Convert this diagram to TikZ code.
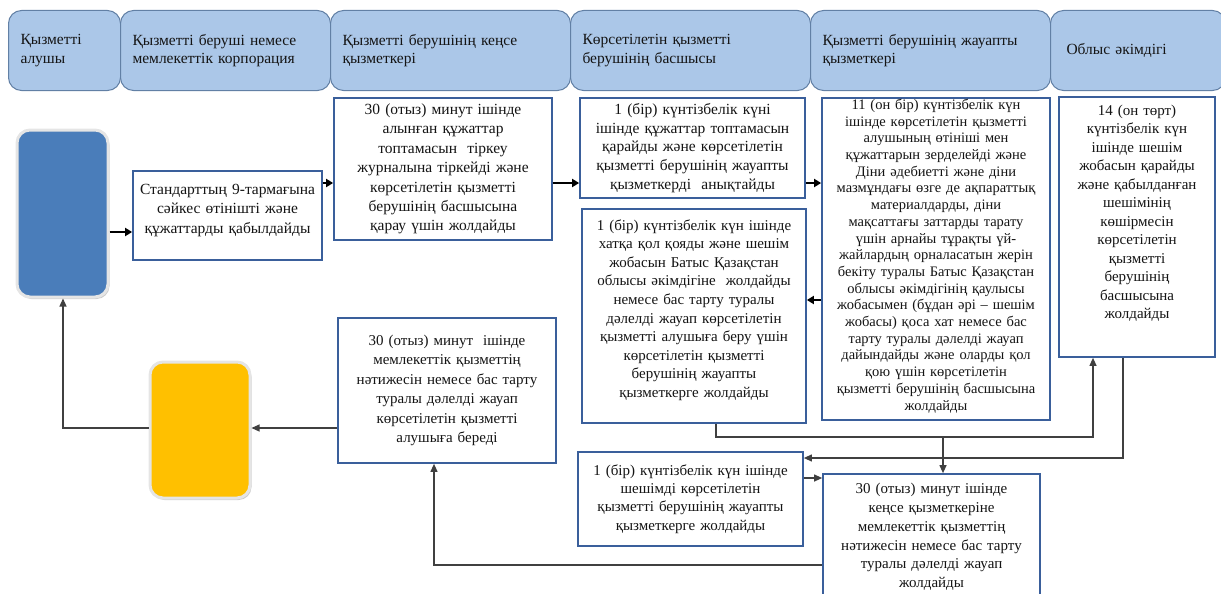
\documentclass[tikz,border=0pt]{standalone}
\usepackage{fontspec}
\setmainfont{Liberation Serif}
\usetikzlibrary{arrows.meta,shadows,calc}
\definecolor{hdrfill}{RGB}{171,199,232}
\definecolor{hdrline}{RGB}{98,128,165}
\definecolor{boxline}{RGB}{58,95,155}
\definecolor{bluefill}{RGB}{74,125,186}
\definecolor{yellowfill}{RGB}{255,192,0}
\definecolor{txt}{RGB}{20,20,20}
\newcommand{\fsz}[2]{\fontsize{#1}{#2}\selectfont}
\newcommand{\liftby}[1]{\par\nointerlineskip\kern#1\hbox{}}
\begin{document}
\begin{tikzpicture}[x=1pt,y=-1pt,
  hdr/.style={draw=hdrline, fill=hdrfill, rounded corners=13pt, line width=1pt,
    anchor=north west, minimum height=80pt, align=left, inner xsep=12pt,
    font=\fsz{15.5}{18.5}, text=txt},
  box/.style={draw=boxline, line width=1.7pt, fill=white, align=center, inner sep=0pt, text=txt},
  rbox/.style={rounded corners=13pt, draw=white!90!black, line width=3pt,
    drop shadow={shadow xshift=1.5pt, shadow yshift=-2pt, fill=black!40, opacity=0.5}},
  thickarrow/.style={draw=black, line width=2.2pt, -{Triangle[length=7pt,width=8pt]}},
  conn/.style={draw=black!75, line width=1.1pt, -{Triangle[length=8pt,width=7pt]}}
]
\useasboundingbox (0,0) rectangle (1221,594);

% header lanes
\node[hdr, text width=88pt] (h1) at (8,10) {Қызметті\\алушы};
\node[hdr, text width=186pt] (h2) at (120,10) {Қызметті беруші немесе\\мемлекеттік корпорация};
\node[hdr, text width=216pt] (h3) at (330,10) {Қызметті берушінің кеңсе\\қызметкері};
\node[hdr, text width=216pt] (h4) at (570,10) {Көрсетілетін қызметті\\берушінің басшысы};
\node[hdr, text width=216pt] (h5) at (810,10) {Қызметті берушінің жауапты\\қызметкері};
\node[hdr, text width=143pt, inner xsep=16pt] (h6) at (1050,10) {Облыс әкімдігі};

% start / end shapes
\node[rbox, fill=bluefill, minimum width=91pt, minimum height=167pt] (S) at (62.5,213.5) {};
\node[rbox, fill=yellowfill, minimum width=100pt, minimum height=136pt] (Y) at (200,430) {};

% process boxes
\node[box, minimum width=189pt, minimum height=89pt, text width=189pt, font=\fsz{15.5}{19.5}] (A) at (227.5,215.5)
  {Стандарттың 9-тармағына\\сәйкес өтінішті және\\құжаттарды қабылдайды\liftby{10pt}};
\node[box, minimum width=218pt, minimum height=142pt, text width=218pt, font=\fsz{15.5}{19.4}] (B) at (443,169)
  {30 (отыз) минут ішінде\\алынған құжаттар\\топтамасын\ \ тіркеу\\журналына тіркейді және\\көрсетілетін қызметті\\берушінің басшысына\\қарау үшін жолдайды};
\node[box, minimum width=225pt, minimum height=100pt, text width=225pt, font=\fsz{15.5}{18.8}] (C) at (692.5,148)
  {1 (бір) күнтізбелік күні\\ішінде құжаттар топтамасын\\қарайды және көрсетілетін\\қызметті берушінің жауапты\\қызметкерді\ \ анықтайды};
\node[box, minimum width=228pt, minimum height=322pt, text width=228pt, font=\fsz{14.5}{16.7}] (D) at (936,259)
  {11 (он бір) күнтізбелік күн\\ішінде көрсетілетін қызметті\\алушының өтініші мен\\құжаттарын зерделейді және\\Діни әдебиетті және діни\\мазмұндағы өзге де ақпараттық\\материалдарды, діни\\мақсаттағы заттарды тарату\\үшін арнайы тұрақты үй-\\жайлардың орналасатын жерін\\бекіту туралы Батыс Қазақстан\\облысы әкімдігінің қаулысы\\жобасымен (бұдан әрі – шешім\\жобасы) қоса хат немесе бас\\тарту туралы дәлелді жауап\\дайындайды және оларды қол\\қою үшін көрсетілетін\\қызметті берушінің басшысына\\жолдайды\liftby{6pt}};
\node[box, minimum width=224pt, minimum height=214pt, text width=224pt, font=\fsz{15}{18.6}] (E) at (694,316)
  {1 (бір) күнтізбелік күн ішінде\\хатқа қол қояды және шешім\\жобасын Батыс Қазақстан\\облысы әкімдігіне\ \ жолдайды\\немесе бас тарту туралы\\дәлелді жауап көрсетілетін\\қызметті алушыға беру үшін\\көрсетілетін қызметті\\берушінің жауапты\\қызметкерге жолдайды\liftby{12pt}};
\node[box, minimum width=156pt, minimum height=260pt, text width=156pt, font=\fsz{15}{18.5}] (F) at (1137,227)
  {14 (он төрт)\\күнтізбелік күн\\ішінде шешім\\жобасын қарайды\\және қабылданған\\шешімінің\\көшірмесін\\көрсетілетін\\қызметті\\берушінің\\басшысына\\жолдайды\liftby{28pt}};
\node[box, minimum width=225pt, minimum height=94pt, text width=225pt, font=\fsz{15}{18.3}] (G) at (690.5,499)
  {1 (бір) күнтізбелік күн ішінде\\шешімді көрсетілетін\\қызметті берушінің жауапты\\қызметкерге жолдайды};
\node[box, minimum width=217pt, minimum height=126pt, text width=217pt, font=\fsz{15}{18.8}] (H) at (931.5,537)
  {30 (отыз) минут ішінде\\кеңсе қызметкеріне\\мемлекеттік қызметтің\\нәтижесін немесе бас тарту\\туралы дәлелді жауап\\жолдайды};
\node[box, minimum width=218pt, minimum height=145pt, text width=218pt, font=\fsz{15}{19.4}] (I) at (447,390.5)
  {30 (отыз) минут\ \ ішінде\\мемлекеттік қызметтің\\нәтижесін немесе бас тарту\\туралы дәлелді жауап\\көрсетілетін қызметті\\алушыға береді};

% routing levels
\coordinate (yA) at (0,232);
\coordinate (yB) at (0,183);
\coordinate (yC) at (0,300);
\coordinate (yD) at (0,437);
\coordinate (yE) at (0,458);
\coordinate (yF) at (0,478);
\coordinate (yG) at (0,565);
\coordinate (yH) at (0,428);
\coordinate (xE) at (716,0);
\coordinate (xF1) at (1093,0);
\coordinate (xF2) at (1123,0);
\coordinate (J) at (943,437);
\coordinate (xI) at (434,0);
\coordinate (xS) at (63,0);

% connectors
\draw[thickarrow] (S.east |- yA) -- (A.west |- yA);
\draw[thickarrow] (A.east |- yB) -- (B.west |- yB);
\draw[thickarrow] (B.east |- yB) -- (C.west |- yB);
\draw[thickarrow] (C.east |- yB) -- (D.west |- yB);
\draw[thickarrow] (D.west |- yC) -- (E.east |- yC);
\draw[conn] (E.south -| xE) -- (xE |- yD) -- (xF1 |- yD) -- (F.south -| xF1);
\draw[conn] (J) -- (H.north -| J);
\draw[conn] (F.south -| xF2) -- (xF2 |- yE) -- (G.east |- yE);
\draw[conn] (G.east |- yF) -- (H.west |- yF);
\draw[conn] (H.west |- yG) -- (xI |- yG) -- (I.south -| xI);
\draw[conn] (I.west |- yH) -- (Y.east |- yH);
\draw[conn] (Y.west |- yH) -- (xS |- yH) -- (S.south -| xS);
\end{tikzpicture}
\end{document}
